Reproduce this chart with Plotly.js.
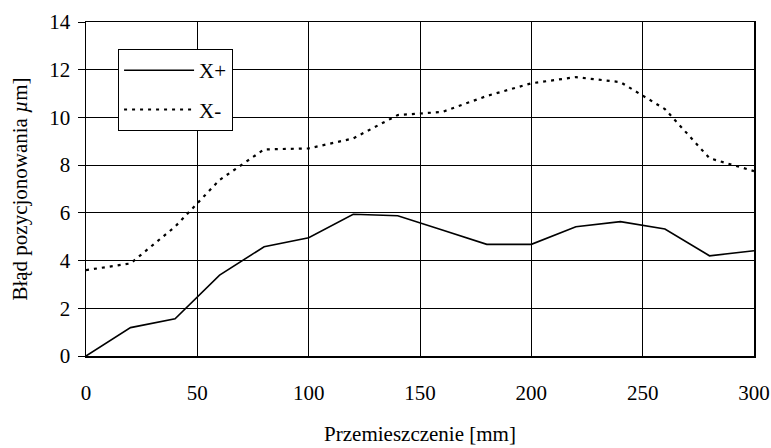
<!DOCTYPE html>
<html>
<head>
<meta charset="utf-8">
<script src="https://cdn.plot.ly/plotly-3.0.1.min.js"></script>
<style>html,body{margin:0;padding:0;background:#fff;}#chart{width:771px;height:448px;}</style>
</head>
<body>
<div id="chart"></div>
<script>
const positions = [0, 20, 40, 60, 80, 100, 120, 140, 160, 180, 200, 220, 240, 260, 280, 300];
const xPlus  = [0, 1.19, 1.56, 3.39, 4.58, 4.96, 5.94, 5.88, 5.28, 4.68, 4.68, 5.42, 5.63, 5.32, 4.20, 4.41];
const xMinus = [3.60, 3.88, 5.42, 7.38, 8.66, 8.70, 9.12, 10.10, 10.23, 10.90, 11.43, 11.69, 11.48, 10.35, 8.29, 7.75];
const seriesNames = ['X+', 'X-'];
const xTicks = [0, 50, 100, 150, 200, 250, 300];
const yTicks = [0, 2, 4, 6, 8, 10, 12, 14];

const font = {family: 'Liberation Serif, Times New Roman, serif', size: 21, color: '#000'};

const traces = [
  {x: positions, y: xPlus, name: seriesNames[0], mode: 'lines', legendgroup: 'a',
   line: {color: '#000', width: 1.6}},
  {x: positions, y: xMinus, name: seriesNames[1], mode: 'lines', legendgroup: 'b',
   line: {color: '#000', width: 2.2, dash: '3px,5px'}}
];

const layout = {
  width: 771, height: 448,
  margin: {l: 86, r: 17, t: 22, b: 92},
  paper_bgcolor: '#fff', plot_bgcolor: '#fff',
  font: font,
  showlegend: true,
  legend: {x: 0.048, y: 0.919, xanchor: 'left', yanchor: 'top',
    bgcolor: '#fff', bordercolor: '#000', borderwidth: 1,
    font: font, itemwidth: 70, traceorder: 'grouped', tracegroupgap: 9},
  xaxis: {range: [0, 300], tickvals: xTicks, ticktext: xTicks.map(String),
    showgrid: true, gridcolor: '#000', gridwidth: 1,
    showline: true, linecolor: '#000', linewidth: 1.5, mirror: true,
    ticks: '', zeroline: false, ticklabelstandoff: 17,
    tickfont: font,
    title: {text: 'Przemieszczenie [mm]', font: font, standoff: 22}},
  yaxis: {range: [0, 14], tickvals: yTicks, ticktext: yTicks.map(String),
    showgrid: true, gridcolor: '#000', gridwidth: 1,
    showline: true, linecolor: '#000', linewidth: 1.5, mirror: true,
    ticks: 'outside', ticklen: 7, tickcolor: '#000', zeroline: false,
    ticklabelstandoff: 3, tickfont: font,
    title: {text: 'Błąd pozycjonowania <i>µ</i>m]', font: font, standoff: 16}}
};

Plotly.newPlot('chart', traces, layout, {displayModeBar: false, staticPlot: true});
</script>
</body>
</html>
